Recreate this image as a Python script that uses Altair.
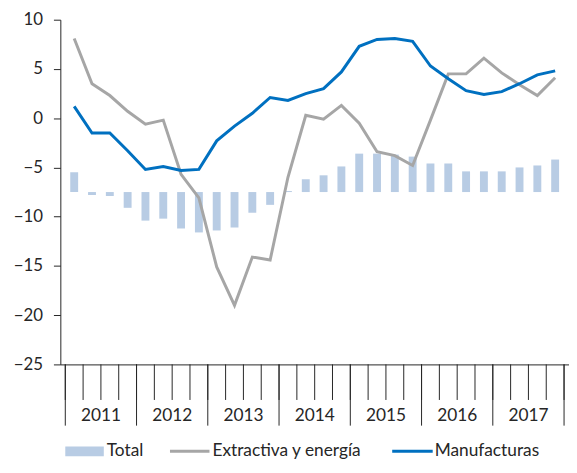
import altair as alt
import pandas as pd

years = ["2011", "2012", "2013", "2014", "2015", "2016", "2017"]
series_names = ["Total", "Extractiva y energía", "Manufacturas"]

total = [-5.5, -7.8, -7.9, -9.1, -10.4, -10.2, -11.2, -11.6, -11.4, -11.1, -9.6, -8.8,
         -7.4, -6.2, -5.8, -4.9, -3.6, -3.6, -3.7, -3.9, -4.6, -4.6, -5.4, -5.4,
         -5.4, -5.0, -4.8, -4.2]
extractiva = [8.1, 3.5, 2.3, 0.7, -0.6, -0.2, -5.7, -8.1, -15.1, -19.0, -14.1, -14.4,
              -6.0, 0.3, -0.1, 1.3, -0.5, -3.4, -3.8, -4.8, -0.2, 4.5, 4.5, 6.1,
              4.6, 3.4, 2.3, 4.1]
manufacturas = [1.2, -1.5, -1.5, -3.3, -5.2, -4.9, -5.3, -5.2, -2.3, -0.8, 0.5, 2.1,
                1.8, 2.5, 3.0, 4.7, 7.3, 8.0, 8.1, 7.8, 5.3, 4.0, 2.8, 2.4,
                2.7, 3.5, 4.4, 4.8]
bar_base = -7.5
y_ticks = [-25, -20, -15, -10, -5, 0, 5, 10]

n = len(total)
df = pd.DataFrame({
    "pos": [i + 0.5 for i in range(n)],
    "total": total,
    "base": [bar_base] * n,
    "extractiva": extractiva,
    "manufacturas": manufacturas,
})
df_q_ticks = pd.DataFrame({"pos": [i for i in range(n + 1)]})
df_year_lines = pd.DataFrame({"pos": [4 * i for i in range(len(years) + 1)]})
df_year_labels = pd.DataFrame({"pos": [4 * i + 2 for i in range(len(years))], "label": years})

W, H = 515, 349
FONT = "Lato"
FS = 17.5
TXT = "#262626"
BAR = "#B8CCE4"
GRAY = "#A6A6A6"
BLUE = "#0070C0"

x_enc = alt.X("pos:Q", scale=alt.Scale(domain=[0, n], nice=False, zero=False),
              axis=alt.Axis(labels=False, ticks=False, domainColor=TXT, grid=False, title=None))
x_plain = alt.X("pos:Q")
y_enc = alt.Y("total:Q", scale=alt.Scale(domain=[-25, 10], nice=False, zero=False),
              axis=alt.Axis(values=y_ticks, tickSize=7, labelPadding=11, labelFontSize=17,
                            labelFont=FONT, labelColor=TXT, tickColor=TXT, domainColor=TXT,
                            grid=False, title=None))

bars = alt.Chart(df).mark_bar(size=8, color=BAR).encode(x=x_enc, y=y_enc, y2="base:Q")
gray = alt.Chart(df).mark_line(color=GRAY, strokeWidth=3).encode(x=x_plain, y="extractiva:Q")
blue = alt.Chart(df).mark_line(color=BLUE, strokeWidth=3).encode(x=x_plain, y="manufacturas:Q")

q_ticks = alt.Chart(df_q_ticks).mark_rule(color=TXT, strokeWidth=1).encode(
    x="pos:Q", y=alt.value(H), y2=alt.value(H + 36))
year_lines = alt.Chart(df_year_lines).mark_rule(color=TXT, strokeWidth=1).encode(
    x="pos:Q", y=alt.value(H), y2=alt.value(H + 62))
year_labels = alt.Chart(df_year_labels).mark_text(
    font=FONT, fontSize=FS, color=TXT, baseline="middle", align="center").encode(
    x="pos:Q", y=alt.value(H + 52), text="label:N")

LY = H + 88
leg_rect = alt.Chart(pd.DataFrame({"name": [series_names[0]]})).mark_rect(color=BAR).encode(
    x=alt.value(5), x2=alt.value(44), y=alt.value(LY - 5), y2=alt.value(LY + 5))
leg_gray = alt.Chart(pd.DataFrame({"name": [series_names[1]]})).mark_rule(color=GRAY, strokeWidth=3).encode(
    x=alt.value(111), x2=alt.value(151), y=alt.value(LY))
leg_blue = alt.Chart(pd.DataFrame({"name": [series_names[2]]})).mark_rule(color=BLUE, strokeWidth=3).encode(
    x=alt.value(336), x2=alt.value(377), y=alt.value(LY))


def leg_text(name, xpos):
    return alt.Chart(pd.DataFrame({"name": [name]})).mark_text(
        font=FONT, fontSize=FS, color=TXT, baseline="middle", align="left").encode(
        x=alt.value(xpos), y=alt.value(LY), text="name:N")


chart = alt.layer(
    bars, gray, blue, q_ticks, year_lines, year_labels,
    leg_rect, leg_gray, leg_blue,
    leg_text(series_names[0], 47), leg_text(series_names[1], 154), leg_text(series_names[2], 379),
).properties(
    width=W, height=H,
    autosize=alt.AutoSizeParams(type="none"),
    padding={"left": 53, "top": 9, "right": 0, "bottom": 99},
).configure_view(stroke=None)

chart.save("out.html", embed_options={"renderer": "svg", "actions": False})
